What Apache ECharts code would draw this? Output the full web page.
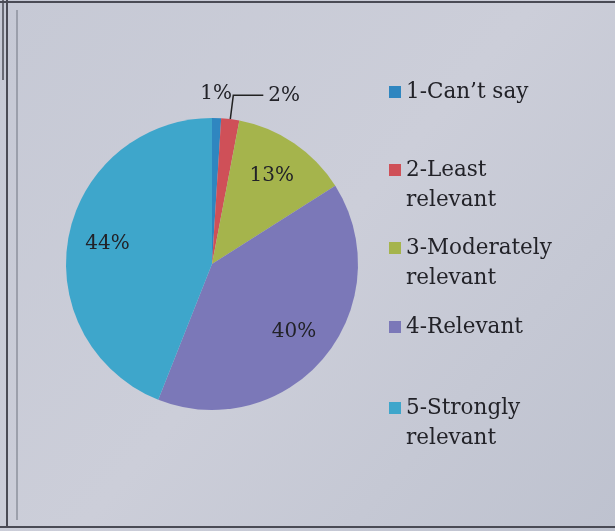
<!DOCTYPE html>
<html>
<head>
<meta charset="utf-8">
<script src="https://cdn.jsdelivr.net/npm/echarts@6/dist/echarts.min.js"></script>
<style>
  html, body { margin: 0; padding: 0; }
  #main { width: 615px; height: 531px; }
</style>
</head>
<body>
<div id="main"></div>
<script>
const categories = ['1-Can\u2019t say', '2-Least\nrelevant', '3-Moderately\nrelevant', '4-Relevant', '5-Strongly\nrelevant']
const values = [1, 2, 13, 40, 44]
const colors = ['#2f86c0', '#cf5058', '#a5b44c', '#7b78b8', '#3ea6cb']

const cx = 212
const cy = 264
const font = '"DejaVu Serif", "Liberation Serif", serif'

const chart = echarts.init(document.getElementById('main'))

// one legend per item so the uneven spacing can be matched;
// values are the y of the icon / first text line
const legendRows = [92, 170, 248, 327, 408]
const legends = categories.map((name, i) => {
  const twoLines = name.indexOf('\n') >= 0
  return {
    orient: 'vertical',
    left: 384,
    // two-line names get an empty first line so the icon sits on the first text line
    top: legendRows[i] - (twoLines ? 50 : 20),
    itemWidth: 12,
    itemHeight: 12,
    icon: 'rect',
    selectedMode: false,
    data: [name],
    formatter: (n) => (n.indexOf('\n') >= 0 ? '\n' + n : n),
    textStyle: {
      fontFamily: font,
      fontSize: 21.5,
      color: '#222228',
      lineHeight: 30,
    },
  }
})

const option = {
  backgroundColor: new echarts.graphic.LinearGradient(0, 0, 1, 1, [
    { offset: 0, color: '#c6c9d5' },
    { offset: 0.5, color: '#ccced9' },
    { offset: 1, color: '#bec2cf' },
  ]),
  color: colors,
  legend: legends,
  graphic: [
    { type: 'line', shape: { x1: 7, y1: 0, x2: 7, y2: 528 }, style: { stroke: '#4a4b55', lineWidth: 2 } },
    { type: 'line', shape: { x1: 3, y1: 0, x2: 3, y2: 80 }, style: { stroke: '#4a4b55', lineWidth: 1.5 } },
    { type: 'line', shape: { x1: 17, y1: 10, x2: 17, y2: 520 }, style: { stroke: '#8d909c', lineWidth: 1.5 } },
    { type: 'line', shape: { x1: 0, y1: 2, x2: 615, y2: 2 }, style: { stroke: '#4a4b55', lineWidth: 2 } },
    { type: 'line', shape: { x1: 0, y1: 527, x2: 615, y2: 527 }, style: { stroke: '#4a4b55', lineWidth: 2 } },
  ],
  series: [
    {
      type: 'pie',
      center: [cx, cy],
      radius: 146,
      startAngle: 90,
      clockwise: true,
      avoidLabelOverlap: false,
      silent: true,
      itemStyle: { borderWidth: 0 },
      label: {
        show: true,
        position: 'inside',
        formatter: '{c}%',
        fontFamily: font,
        fontSize: 20,
        color: '#222228',
      },
      labelLayout: (p) => {
        if (p.dataIndex === 0) {
          return { dx: -22 }
        }
        if (p.dataIndex === 1) {
          return {}
        }
        // push inside labels outward, to about 70% of the radius
        const r = p.labelRect
        const lx = r.x + r.width / 2
        const ly = r.y + r.height / 2
        return { dx: (lx - cx) * 0.4, dy: (ly - cy) * 0.4 }
      },
      data: categories.map((name, i) => {
        const d = { name: name, value: values[i] }
        if (i === 0) {
          d.label = { position: 'outside' }
          d.labelLine = { show: false, length: 24, length2: 0 }
        } else if (i === 1) {
          d.label = { position: 'outside' }
          d.labelLine = { show: true, length: 24, length2: 30, lineStyle: { color: '#222', width: 1.5 } }
        }
        return d
      }),
    },
  ],
}

chart.setOption(option)
</script>
</body>
</html>
